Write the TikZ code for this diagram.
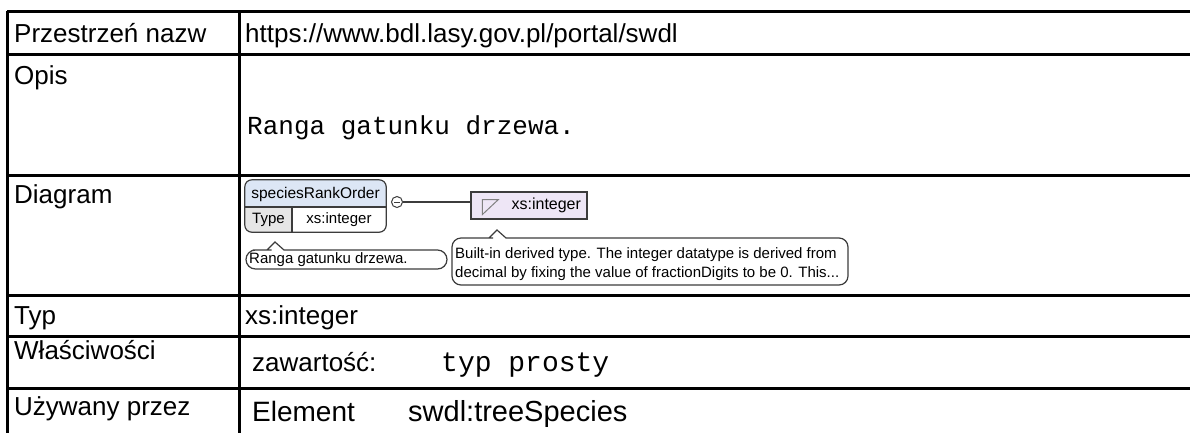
\documentclass[tikz,border=0pt]{standalone}
\usepackage{fontspec}
\setmainfont{Liberation Sans}
\setmonofont{Liberation Mono}
\usetikzlibrary{shapes,backgrounds}
\definecolor{headblue}{HTML}{DCE6F5}
\definecolor{typelila}{HTML}{EEE6F6}
\definecolor{cellgray}{HTML}{E6E6E6}
\definecolor{diagline}{HTML}{3C3C3C}

\begin{document}
\begin{tikzpicture}[x=1pt,y=-1pt,inner sep=0pt]
  \tikzstyle{rule}=[line width=3pt,black]
  \tikzstyle{head}=[anchor=base west,font=\fontsize{26}{30}\selectfont]
  \tikzstyle{cell}=[head]
  \tikzstyle{big cell}=[anchor=base west,font=\fontsize{28}{32}\selectfont]
  \tikzstyle{mono}=[anchor=base west,font=\ttfamily\fontsize{26}{30}\selectfont]
  \tikzstyle{small}=[font=\fontsize{15}{18}\selectfont]
  \tikzstyle{frame}=[draw=diagline,line width=1.2pt]
  \tikzstyle{bubble}=[frame,fill=white]
  \useasboundingbox (0,0) rectangle (1190,432);
  \fill[white] (0,0) rectangle (1190,432);
  % table
  \foreach \y in {11,54,175,295,336,388}
    \draw[rule] (7,\y) -- (1200,\y);
  \draw[rule] (7,11) -- (7,440);
  \draw[rule] (239,11) -- (239,440);
  \node[head] (ns) at (14,42) {Przestrzeń nazw};
  \node[cell] (nsval) at (245,42) {https://www.bdl.lasy.gov.pl/portal/swdl};
  \node[head] (opis) at (14,84) {Opis};
  \node[mono] (opisval) at (247,134) {Ranga gatunku drzewa.};
  \node[head] (diag) at (14,203) {Diagram};
  \node[head] (typ) at (14,324) {Typ};
  \node[cell] (typval) at (245,324) {xs:integer};
  \node[head] (wlasc) at (14,359) {Właściwości};
  \node[cell] (zaw) at (252,371) {zawartość:};
  \node[mono,font=\ttfamily\fontsize{28}{32}\selectfont] (zawval) at (441,371) {typ prosty};
  \node[head] (uzyw) at (14,415) {Używany przez};
  \node[big cell] (elemkind) at (252,421) {Element};
  \node[big cell,font=\fontsize{29}{33}\selectfont] (elemref) at (408,421) {swdl:treeSpecies};
  % diagram
  \node[minimum width=141pt,minimum height=52pt] (elem) at (315.5,206) {};
  \begin{scope}
    \clip[rounded corners=7pt] (elem.north west) rectangle (elem.south east);
    \fill[headblue] (elem.north west) rectangle (386,207);
    \fill[cellgray] (245,207) rectangle (292,232);
  \end{scope}
  \draw[frame,rounded corners=7pt] (elem.north west) rectangle (elem.south east);
  \draw[frame] (245,207) -- (386,207) (292,207) -- (292,232);
  \node[small,font=\fontsize{15.5}{18}\selectfont] (elemname) at (315.5,194) {speciesRankOrder};
  \node[small] (elemtype) at (268.5,220) {Type};
  \node[small] (elemval) at (339,220) {xs:integer};
  \node[circle,frame,line width=1pt,fill=white,minimum size=11pt] (seq) at (397,202) {};
  \draw[frame,line width=1pt] ([xshift=-3pt]seq.center) -- ([xshift=3pt]seq.center);
  \node[chamfered rectangle,chamfered rectangle xsep=6pt,frame,fill=typelila,
        minimum width=116pt,minimum height=27pt] (stype) at (529,205.5) {};
  \node[small,font=\fontsize{16}{19}\selectfont,anchor=west] (stypetxt) at ([xshift=41pt]stype.west) {xs:integer};
  \draw[gray,line width=1pt] ([xshift=12pt,yshift=6pt]stype.west) -- ([xshift=28pt,yshift=6pt]stype.west)
    -- ([xshift=12pt,yshift=-9pt]stype.west) -- cycle;
  \draw[frame] (seq.east) -- (seq.east -| stype.west);
  \draw[bubble] (290,250) [rounded corners=9.5pt] -- (447,250) -- (447,269) -- (246,269) -- (246,250)
    -- (262,250) [sharp corners] -- (267,250) -- (275,242) -- (284,250) -- cycle;
  \node[small,anchor=west] (elemdoc) at (249,260) {Ranga gatunku drzewa.};
  \draw[bubble] (512,238) [rounded corners=9pt] -- (848,238) -- (848,285) -- (452,285) -- (452,238)
    -- (484,238) [sharp corners] -- (489,238) -- (497,230) -- (506,238) -- cycle;
  \node[small,anchor=north west,align=left] (stypedoc) at (455,247)
    {Built-in derived type. The integer datatype is derived from\\[1pt]
     decimal by fixing the value of fractionDigits to be 0. This...};
\end{tikzpicture}
\end{document}
